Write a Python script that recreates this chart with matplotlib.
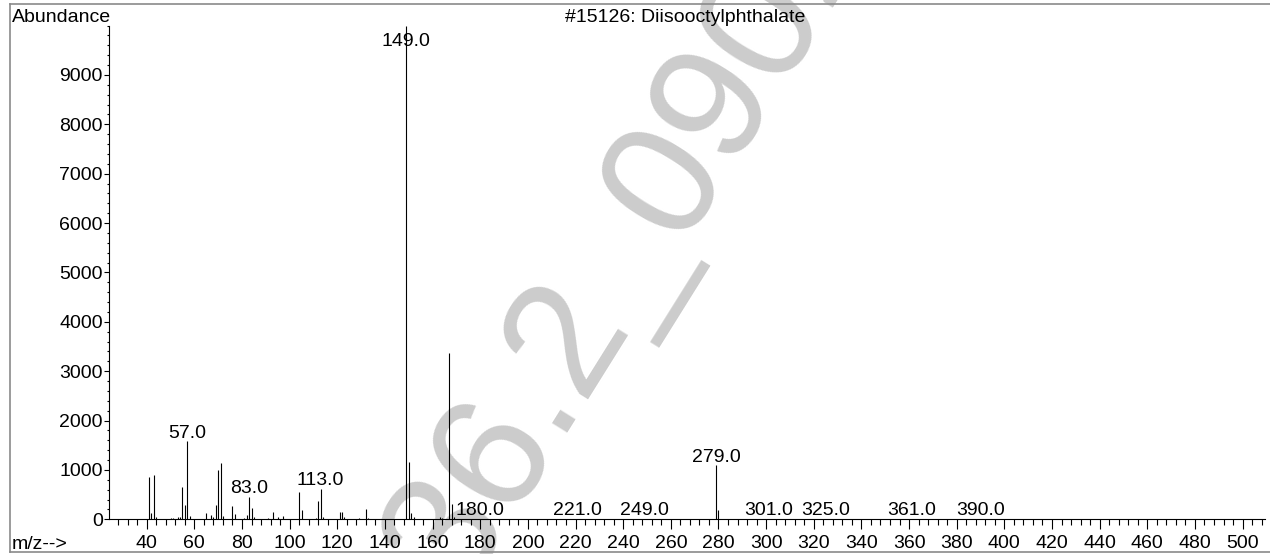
import matplotlib
matplotlib.use("Agg")
import matplotlib.pyplot as plt
from matplotlib.lines import Line2D
from matplotlib.ticker import MultipleLocator, FixedLocator

plt.rcParams['font.family'] = ['Liberation Sans', 'DejaVu Sans']
plt.rcParams['font.size'] = 14

# peak list (m/z, abundance)
mz = [41, 42, 43, 44, 50, 51, 53, 54, 55, 56, 57, 58, 65, 67, 68, 69, 70, 71, 72,
      76, 77, 81, 82, 83, 84, 85, 91, 93, 95, 97, 104, 105, 111, 112, 113, 114,
      121, 122, 123, 129, 132, 133, 149, 150, 151, 152, 163, 164, 167, 168, 169,
      180, 221, 249, 261, 279, 280, 301, 325, 361, 390]
abundance = [850, 130, 890, 45, 30, 25, 50, 45, 660, 290, 1580, 70, 120, 80, 50, 290, 1000, 1140, 70,
             270, 100, 30, 80, 450, 230, 40, 30, 140, 40, 70, 550, 180, 30, 370, 620, 50,
             150, 150, 40, 30, 210, 30, 9999, 1170, 130, 40, 50, 30, 3360, 300, 40,
             15, 10, 10, 10, 1090, 190, 10, 10, 10, 10]

labelled = [57, 83, 113, 149, 180, 221, 249, 279, 301, 325, 361, 390]

title = "#15126: Diisooctylphthalate"
watermark = "36.2_0902"

fig = plt.figure(figsize=(12.7, 5.54), dpi=100)
W, H = 1270, 554

# light grey watermark across the plot, drawn under the axes
fig.text(460 / W, 1 - 596 / H, watermark, fontsize=119.5, color='#cccccc',
         rotation=58, rotation_mode='anchor', ha='left', va='baseline', zorder=-1)

ax = fig.add_axes([109.3 / W, (H - 519.3) / H, (1265 - 109.3) / W, (519.3 - 25.6) / H])
ax.patch.set_alpha(0)

ax.vlines(mz, 0, abundance, colors='k', lw=0.8)

peak = dict(zip(mz, abundance))
for m in labelled:
    y = min(peak[m], 9590)
    off = 2.6 if peak[m] < 9590 else 0
    ax.annotate(f"{m:.1f}", (m, y), xytext=(0, off), textcoords='offset points',
                ha='center', va='baseline', fontsize=14)

ax.set_xlim(24.3, 509.4)
ax.set_ylim(0, 10000)

ax.xaxis.set_major_locator(FixedLocator(range(40, 501, 20)))
ax.xaxis.set_minor_locator(MultipleLocator(4))
ax.yaxis.set_major_locator(FixedLocator(range(0, 9001, 1000)))
ax.yaxis.set_minor_locator(MultipleLocator(200))

ax.tick_params(axis='x', which='major', length=7.5, width=0.8, pad=3.5, labelsize=14)
ax.tick_params(axis='x', which='minor', length=4.5, width=0.8)
ax.tick_params(axis='y', which='major', length=3.6, width=0.8, pad=1, labelsize=14)
ax.tick_params(axis='y', which='minor', length=1.5, width=0.8)

for s in ['top', 'right']:
    ax.spines[s].set_visible(False)
for s in ['left', 'bottom']:
    ax.spines[s].set_linewidth(0.8)

fig.text(12 / W, 1 - 22 / H, "Abundance", ha='left', va='baseline', fontsize=14)
fig.text(565 / W, 1 - 22 / H, title, ha='left', va='baseline', fontsize=14)
fig.text(12 / W, 1 - 549 / H, "m/z-->", ha='left', va='baseline', fontsize=14)

# outer frame of the report panel
frame = '#8a8a8a'
fig.add_artist(Line2D([10 / W, 10 / W], [1 - 4 / H, 1 - 552 / H], color=frame, lw=1.2))
fig.add_artist(Line2D([10 / W, 1], [1 - 4 / H, 1 - 4 / H], color=frame, lw=1.2))
fig.add_artist(Line2D([10 / W, 1], [1 - 552 / H, 1 - 552 / H], color=frame, lw=1.2))

fig.savefig("out.png", dpi=100)
